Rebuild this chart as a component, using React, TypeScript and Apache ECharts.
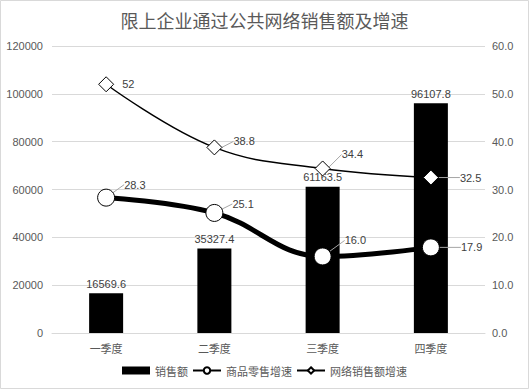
import React, { useEffect, useRef } from "react";
import * as echarts from "echarts";

const categories = ["一季度", "二季度", "三季度", "四季度"];
const salesValues = [16569.6, 35327.4, 61163.5, 96107.8];
const retailGrowth = [28.3, 25.1, 16.0, 17.9];
const onlineGrowth = [52, 38.8, 34.4, 32.5];

const retailOffsets = [
  [3, -13],
  [3, -9],
  [7, -16],
  [15, 0],
];
const onlineOffsets = [
  [2, 0],
  [5, -6],
  [5, -14],
  [15, 0],
];

const FONT = "'Liberation Sans', 'Noto Sans CJK SC', sans-serif";
const CJK = "'Noto Sans CJK SC', sans-serif";

export default function App() {
  const ref = useRef<HTMLDivElement>(null);
  useEffect(() => {
    document.body.style.margin = "0";
    const chart = echarts.init(ref.current!, null, { renderer: "svg" });
    chart.setOption({
      animation: false,
      backgroundColor: "#ffffff",
      textStyle: { fontFamily: FONT },
      title: {
        text: "限上企业通过公共网络销售额及增速",
        left: "center",
        top: 6,
        textStyle: { fontFamily: CJK, fontSize: 18, fontWeight: "normal", color: "#595959" },
      },
      graphic: [
        {
          type: "rect",
          shape: { x: 0.5, y: 0.5, width: 528, height: 388 },
          style: { fill: "none", stroke: "#d9d9d9", lineWidth: 1 },
          silent: true,
        },
      ],
      grid: { left: 52, right: 44, top: 46, bottom: 56 },
      legend: {
        bottom: 8,
        left: "center",
        itemGap: 4,
        itemWidth: 28,
        itemHeight: 8,
        textStyle: { fontFamily: CJK, fontSize: 11, color: "#595959" },
        data: [
          { name: "销售额", icon: "rect" },
          { name: "商品零售增速" },
          { name: "网络销售额增速" },
        ],
      },
      xAxis: {
        type: "category",
        data: categories,
        axisLine: { lineStyle: { color: "#d9d9d9" } },
        axisTick: { show: false },
        axisLabel: { fontFamily: CJK, fontSize: 11, color: "#595959", margin: 9 },
      },
      yAxis: [
        {
          type: "value",
          min: 0,
          max: 120000,
          interval: 20000,
          axisLine: { show: false },
          axisTick: { show: false },
          splitLine: { lineStyle: { color: "#d9d9d9" } },
          axisLabel: {
            fontSize: 11,
            color: "#595959",
            margin: 9,
            formatter: (v: number) => String(v),
          },
        },
        {
          type: "value",
          min: 0,
          max: 60,
          interval: 10,
          axisLine: { show: false },
          axisTick: { show: false },
          splitLine: { show: false },
          axisLabel: {
            fontSize: 11,
            color: "#595959",
            margin: 7,
            formatter: (v: number) => v.toFixed(1),
          },
        },
      ],
      series: [
        {
          name: "销售额",
          type: "bar",
          data: salesValues,
          barWidth: 34,
          itemStyle: { color: "#000000" },
          label: {
            show: true,
            position: "top",
            fontSize: 11,
            color: "#404040",
            distance: 4,
          },
        },
        {
          name: "商品零售增速",
          type: "line",
          yAxisIndex: 1,
          data: retailGrowth,
          smooth: 0.4,
          symbol: "circle",
          symbolSize: 17,
          lineStyle: { color: "#000000", width: 5 },
          itemStyle: { color: "#ffffff", borderColor: "#000000", borderWidth: 1 },
          label: {
            show: true,
            position: "right",
            distance: 6,
            fontSize: 11,
            color: "#404040",
            formatter: (p: any) => Number(p.value).toFixed(1),
          },
          labelLine: { show: true, lineStyle: { color: "#a6a6a6", width: 1 } },
          labelLayout: (p: any) => ({
            dx: retailOffsets[p.dataIndex][0],
            dy: retailOffsets[p.dataIndex][1],
          }),
          z: 3,
        },
        {
          name: "网络销售额增速",
          type: "line",
          yAxisIndex: 1,
          data: onlineGrowth.map((v, i) =>
            i === 0 ? { value: v, labelLine: { show: false } } : v
          ),
          smooth: 0.4,
          symbol: "diamond",
          symbolSize: 15,
          lineStyle: { color: "#000000", width: 1.5 },
          itemStyle: { color: "#ffffff", borderColor: "#000000", borderWidth: 1 },
          label: {
            show: true,
            position: "right",
            distance: 6,
            fontSize: 11,
            color: "#404040",
          },
          labelLine: { show: true, lineStyle: { color: "#a6a6a6", width: 1 } },
          labelLayout: (p: any) => ({
            dx: onlineOffsets[p.dataIndex][0],
            dy: onlineOffsets[p.dataIndex][1],
          }),
          z: 4,
        },
      ],
    });
    return () => chart.dispose();
  }, []);
  return <div ref={ref} style={{ width: 529, height: 389 }} />;
}
